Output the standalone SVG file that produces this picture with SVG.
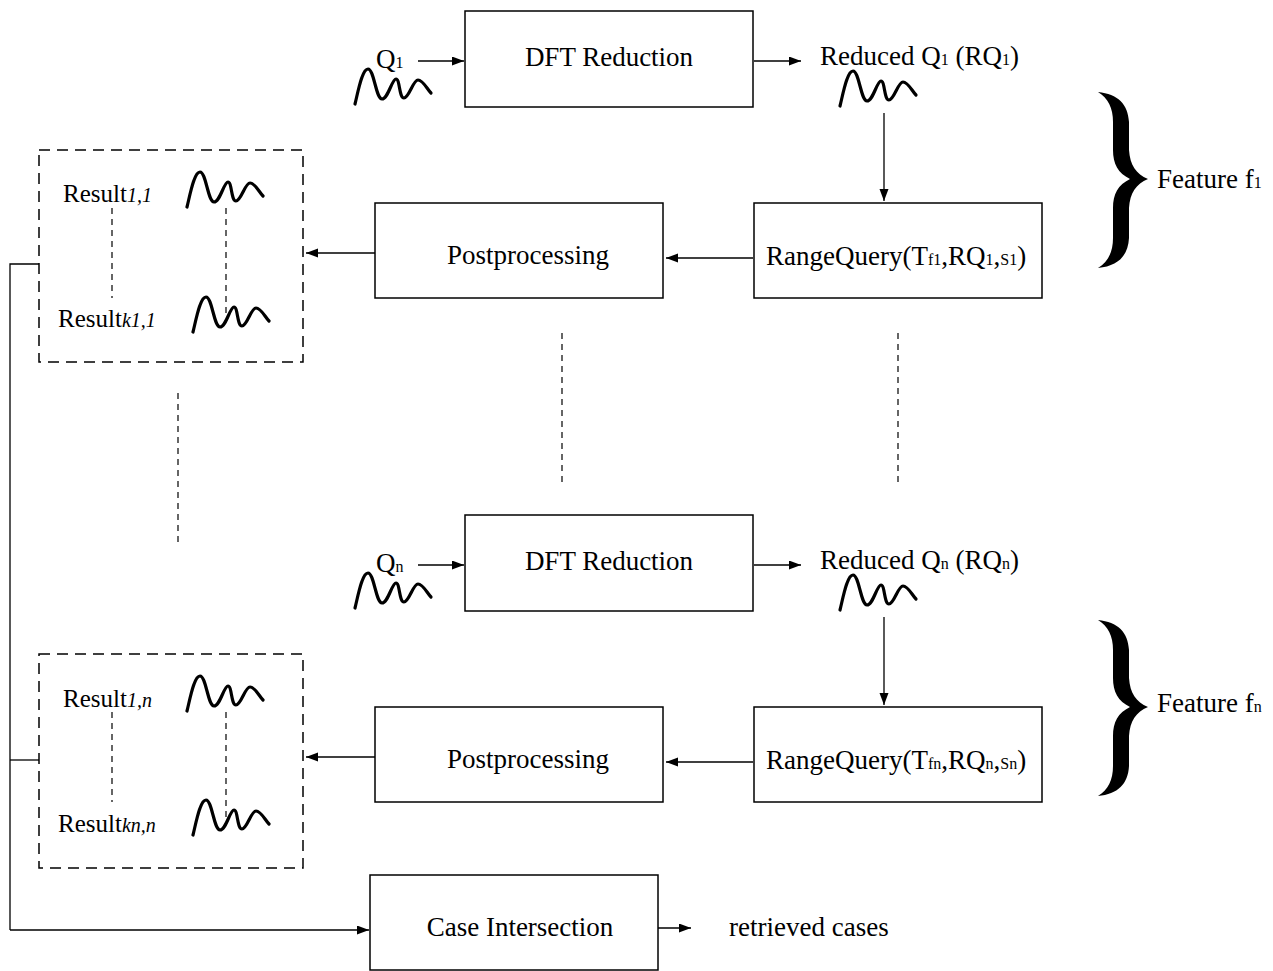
<svg xmlns="http://www.w3.org/2000/svg" xmlns:xlink="http://www.w3.org/1999/xlink" width="1273" height="971" viewBox="0 0 1273 971">
<style>
text{font-family:"Liberation Serif","Times New Roman",serif;font-size:27px;fill:#000}
.mid{text-anchor:middle}
.sub{font-size:16px}
.res{font-size:25px}
.it{font-style:italic;font-size:20px}
.box{fill:#fff;stroke:#000;stroke-width:1.5}
.dbox{fill:none;stroke:#000;stroke-width:1.5;stroke-dasharray:11 7}
.ln{fill:none;stroke:#000;stroke-width:1.3}
.arr{fill:none;stroke:#000;stroke-width:1.3;marker-end:url(#ah)}
.dl{fill:none;stroke:#000;stroke-width:1.2;stroke-dasharray:6 5}
.wave{fill:none;stroke:#000;stroke-width:3.2;stroke-linecap:round;stroke-linejoin:round}
</style>
<defs>
<marker id="ah" markerUnits="userSpaceOnUse" markerWidth="13" markerHeight="10" refX="12" refY="4.5" orient="auto">
<path d="M0,0 L12,4.5 L0,9 z" fill="#000"/>
</marker>
<path id="wave" class="wave" d="M0,0 C3,-12 7,-35 13,-35 C19,-35 21,-5 27,-5 C33,-5 37,-25 41,-25 C45,-25 44,-6 49,-6 C54,-6 58,-24 63,-24 C68,-24 72,-15 76,-11"/>
<path id="brace" d="M0,0 C20,2 30,12 31,30 L31,58 C32,73 38,82 50,87 C38,92 32,101 31,116 L31,146 C30,164 20,174 0,176 C10,170 15,160 15,146 L15,116 C15,102 20,93 32,87 C20,81 15,72 15,58 L15,30 C15,16 10,6 0,0 Z" fill="#000"/>
</defs>

<g id="connectors">
<path class="arr" d="M418,61 L464,61"/>
<path class="arr" d="M754,61 L801,61"/>
<path class="arr" d="M884,113 L884,201"/>
<path class="arr" d="M753,258 L666,258"/>
<path class="arr" d="M375,253 L306,253"/>
<path class="arr" d="M418,565 L464,565"/>
<path class="arr" d="M754,565 L801,565"/>
<path class="arr" d="M884,617 L884,705"/>
<path class="arr" d="M753,762 L666,762"/>
<path class="arr" d="M375,757 L306,757"/>
<path class="ln" d="M39,264 L10,264 L10,930"/>
<path class="ln" d="M39,760 L10,760"/>
<path class="arr" d="M10,930 L369,930"/>
<path class="arr" d="M658,928 L691,928"/>
<path class="dl" d="M562,333 L562,487"/>
<path class="dl" d="M898,333 L898,487"/>
<path class="dl" d="M178,393 L178,545"/>
</g>

<g id="q1">
<text x="376" y="68">Q<tspan class="sub">1</tspan></text>
<use xlink:href="#wave" transform="translate(355,104)"/>
</g>
<g id="dft1">
<rect class="box" x="465" y="11" width="288" height="96"/>
<text class="mid" x="609" y="66">DFT Reduction</text>
</g>
<g id="reduced1">
<text x="820" y="65">Reduced Q<tspan class="sub">1</tspan> (RQ<tspan class="sub">1</tspan>)</text>
<use xlink:href="#wave" transform="translate(840,106)"/>
</g>
<g id="range1">
<rect class="box" x="754" y="203" width="288" height="95"/>
<text x="766" y="265">RangeQuery(T<tspan class="sub">f1</tspan>,RQ<tspan class="sub">1</tspan>,<tspan class="sub">S1</tspan>)</text>
</g>
<g id="post1">
<rect class="box" x="375" y="203" width="288" height="95"/>
<text class="mid" x="528" y="264">Postprocessing</text>
</g>
<g id="results1">
<rect class="dbox" x="39" y="150" width="264" height="212"/>
<text class="res" x="63" y="202">Result<tspan class="it">1,1</tspan></text>
<text class="res" x="58" y="327">Result<tspan class="it">k1,1</tspan></text>
<use xlink:href="#wave" transform="translate(187,207)"/>
<use xlink:href="#wave" transform="translate(193,332)"/>
<path class="dl" d="M112,208 L112,298"/>
<path class="dl" d="M226,208 L226,318"/>
</g>
<g id="feature1">
<use xlink:href="#brace" transform="translate(1098,92)"/>
<text x="1157" y="188">Feature f<tspan class="sub">1</tspan></text>
</g>

<g id="qn">
<text x="376" y="572">Q<tspan class="sub">n</tspan></text>
<use xlink:href="#wave" transform="translate(355,608)"/>
</g>
<g id="dftn">
<rect class="box" x="465" y="515" width="288" height="96"/>
<text class="mid" x="609" y="570">DFT Reduction</text>
</g>
<g id="reducedn">
<text x="820" y="569">Reduced Q<tspan class="sub">n</tspan> (RQ<tspan class="sub">n</tspan>)</text>
<use xlink:href="#wave" transform="translate(840,610)"/>
</g>
<g id="rangen">
<rect class="box" x="754" y="707" width="288" height="95"/>
<text x="766" y="769">RangeQuery(T<tspan class="sub">fn</tspan>,RQ<tspan class="sub">n</tspan>,<tspan class="sub">Sn</tspan>)</text>
</g>
<g id="postn">
<rect class="box" x="375" y="707" width="288" height="95"/>
<text class="mid" x="528" y="768">Postprocessing</text>
</g>
<g id="resultsn">
<rect class="dbox" x="39" y="654" width="264" height="214"/>
<text class="res" x="63" y="707">Result<tspan class="it">1,n</tspan></text>
<text class="res" x="58" y="832">Result<tspan class="it">kn,n</tspan></text>
<use xlink:href="#wave" transform="translate(187,711)"/>
<use xlink:href="#wave" transform="translate(193,835)"/>
<path class="dl" d="M112,712 L112,802"/>
<path class="dl" d="M226,712 L226,820"/>
</g>
<g id="featuren">
<use xlink:href="#brace" transform="translate(1098,620)"/>
<text x="1157" y="712">Feature f<tspan class="sub">n</tspan></text>
</g>

<g id="intersection">
<rect class="box" x="370" y="875" width="288" height="95"/>
<text class="mid" x="520" y="936">Case Intersection</text>
</g>
<g id="retrieved">
<text x="729" y="936">retrieved cases</text>
</g>
</svg>
